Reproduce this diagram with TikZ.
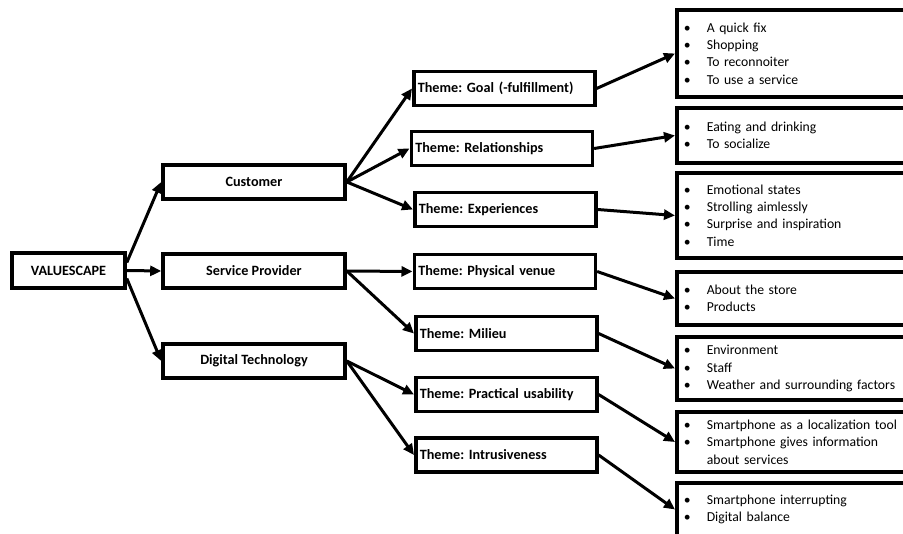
\documentclass[tikz,border=0pt]{standalone}
\usepackage{fontspec}
\setmainfont{Carlito}
\usetikzlibrary{arrows.meta}
\frenchspacing
\newcommand{\bul}[1]{\makebox[23pt][l]{\textbullet}#1}

\begin{document}
\begin{tikzpicture}[x=1pt,y=-1pt,>={Triangle[length=11pt,width=10pt]},
  box/.style={draw,line width=3.6pt,inner sep=0pt,minimum height=34pt,font=\fontsize{14.2}{16}\selectfont\bfseries},
  themebox/.style={box,anchor=west,inner xsep=4pt,text width=173pt,align=left},
  listbox/.style={draw,line width=3.6pt,anchor=west,inner xsep=7pt,inner ysep=0pt,text width=225pt,align=left,font=\fontsize{13.7}{17.3}\selectfont},
  link/.style={->,line width=3pt}]
\useasboundingbox (0,0) rectangle (903,534);
\clip (0,0) rectangle (903,534);
% root and categories
\node[box,minimum width=113pt,minimum height=35pt] (root) at (68.5,270.5) {VALUESCAPE};
\foreach \n/\y/\lab in {cust/182/Customer,serv/271/Service Provider,digi/361/Digital Technology}
  {\node[box,minimum width=182pt] (\n) at (254,\y) {\lab};}
% themes
\foreach \n/\x/\y/\lab in {goal/412/88.5/{Theme: Goal (-fulfillment)},rel/409.5/148.5/Theme: Relationships,
    exp/413/209.5/Theme: Experiences,phys/412.5/271.5/Theme: Physical venue,mil/414/333.5/Theme: Milieu,
    prac/414/394.5/Theme: Practical usability,intr/414/455/Theme: Intrusiveness}
  {\node[themebox] (\n) at (\x,\y) {\lab};}
% lists
\foreach \n/\y/\h/\txt in {
    l1/53.5/87/{\bul{A quick fix}\\\bul{Shopping}\\\bul{To reconnoiter}\\\bul{To use a service}},
    l2/135.5/55/{\bul{Eating and drinking}\\\bul{To socialize}},
    l3/215.5/85/{\bul{Emotional states}\\\bul{Strolling aimlessly}\\\bul{Surprise and inspiration}\\\bul{Time}},
    l4/298.5/53/{\bul{About the store}\\\bul{Products}},
    l5/368.5/63/{\bul{Environment}\\\bul{Staff}\\\bul{Weather and surrounding factors}},
    l6/442/60/{\bul{Smartphone as a localization tool}\\\bul{Smartphone gives information}\\\hspace*{23pt}about services},
    l7/509.5/53/{\bul{Smartphone interrupting}\\\bul{Digital balance}}}
  {\node[listbox,minimum height=\h pt] (\n) at (675,\y) {\txt};}
% connectors
\draw[link] ([yshift=8pt]root.east) -- (cust.west);
\draw[link] (root.east) -- (serv.west);
\draw[link] ([yshift=-8pt]root.east) -- (digi.west);
\foreach \a/\b in {cust/goal,cust/rel,cust/exp,serv/phys,serv/mil,digi/prac,digi/intr,
    goal/l1,rel/l2,exp/l3,phys/l4,mil/l5,prac/l6,intr/l7}
  {\draw[link] (\a.east) -- (\b.west);}
\end{tikzpicture}
\end{document}
